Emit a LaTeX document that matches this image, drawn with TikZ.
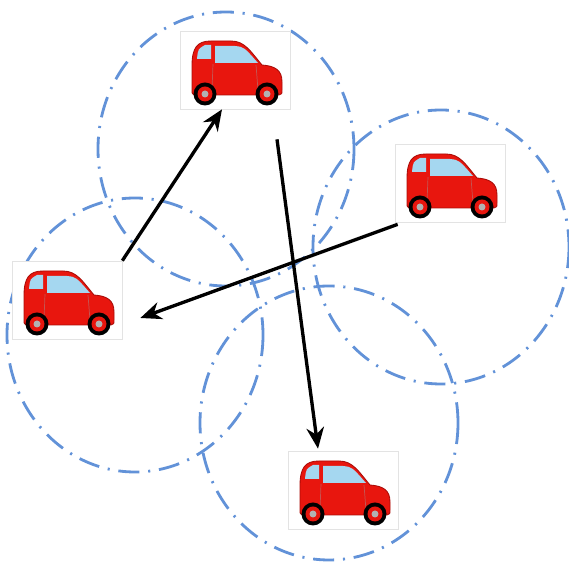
\documentclass[tikz,border=0pt]{standalone}
\usetikzlibrary{calc,arrows.meta}

\definecolor{rangeblue}{RGB}{98,146,216}
\definecolor{carred}{RGB}{232,22,14}
\definecolor{cardark}{RGB}{170,12,8}
\definecolor{glass}{RGB}{165,215,240}

\tikzset{
  radio/.style={rangeblue, line width=1.6pt, dash pattern=on 12pt off 5pt on 1.2pt off 5pt},
  carbox/.style={draw=gray!22, fill=white, line width=0.4pt, inner sep=0pt,
                 minimum width=2.2cm, minimum height=1.56cm},
  link/.style={->, line width=1.9pt},
  car/.pic={
    % body
    \fill[carred, draw=cardark, line width=0.5pt]
      (-41,25) .. controls (-43,24) .. (-43,18) -- (-43,-4)
      .. controls (-43,-22) and (-38,-29) .. (-24,-29) -- (-4,-29)
      .. controls (10,-29) and (16,-18) .. (27,-5)
      .. controls (40,-4) and (47,0) .. (47,12) -- (47,20)
      .. controls (47,24) .. (44,25) -- cycle;
    % windows
    \fill[glass] (-30,-25) -- (-24,-25) -- (-24,-11) -- (-38,-11)
      .. controls (-37,-21) .. cycle;
    \fill[glass] (-20,-24) -- (0,-24) .. controls (9,-23) .. (23,-7) -- (-20,-7) -- cycle;
    % door lines
    \draw[cardark!70, line width=0.4pt] (-22,-6) -- (-23,20) (21,-5) -- (23,20);
    % wheels
    \foreach \wx in {-30,32} {
      \fill[black] (\wx,24) circle (11.5);
      \fill[carred] (\wx,24) circle (7.5);
      \fill[gray!60] (\wx,24) circle (3.5);
    }
  }
}

\begin{document}
\begin{tikzpicture}[x=0.02cm, y=-0.02cm, >={Stealth[length=12pt,width=10pt]}]
  \useasboundingbox (0,0) rectangle (569,563);
  % communication ranges
  \draw[radio] (226,149) ellipse (128 and 137);
  \draw[radio] (441,247) ellipse (128 and 137);
  \draw[radio] (135,335) ellipse (128 and 137);
  \draw[radio] (329,423) ellipse (129 and 137);
  % vehicles
  \path (235,70) node[carbox] (tcar) {} pic {car};
  \path (450,183) node[carbox] (rcar) {} pic {car};
  \path (67,300) node[carbox] (lcar) {} pic {car};
  \path (343,490) node[carbox] (bcar) {} pic {car};
  % hops
  \draw[link] (lcar.north east) -- ($(tcar.south)+(-13,0)$);
  \draw[link] ($(tcar.south)+(42,30)$) -- ($(bcar.north)+(-25,-2)$);
  \draw[link] ($(rcar.south west)+(3,2)$) -- ($(lcar.east)+(18,18)$);
\end{tikzpicture}
\end{document}
